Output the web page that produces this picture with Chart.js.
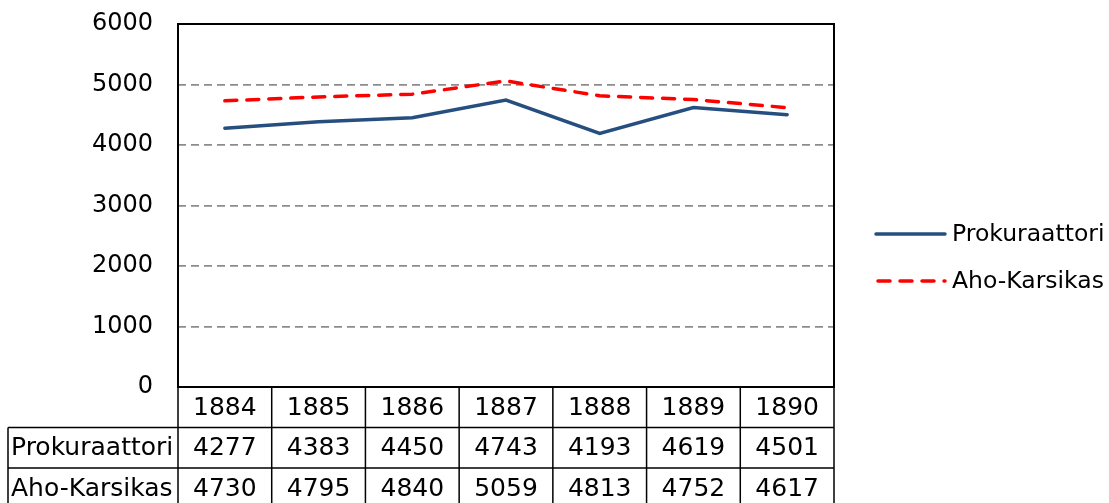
<!DOCTYPE html>
<html>
<head>
<meta charset="utf-8">
<script src="https://cdn.jsdelivr.net/npm/chart.js@4/dist/chart.umd.min.js"></script>
<style>
  html, body { margin: 0; padding: 0; background: #fff; }
  canvas { display: block; }
</style>
</head>
<body>
<canvas id="chart" width="1109" height="503"></canvas>
<script>
// ====== DATA ======
const years = ["1884", "1885", "1886", "1887", "1888", "1889", "1890"];
const prokuraattori = [4277, 4383, 4450, 4743, 4193, 4619, 4501];
const ahoKarsikas = [4730, 4795, 4840, 5059, 4813, 4752, 4617];
const seriesNames = ["Prokuraattori", "Aho-Karsikas"];

const FONT = "DejaVu Sans";
const BLUE = "#264F80";
const RED = "#FF0000";

// ====== TABLE + FRAME + LEGEND ======
const excelFrame = {
  id: "excelFrame",
  afterDraw(chart) {
    const ctx = chart.ctx;
    const a = chart.chartArea;
    const x = chart.scales.x;
    const n = years.length;
    const colW = (a.right - a.left) / n;
    const rowH = 40.5;
    const labelLeft = 8;

    ctx.save();
    // plot border
    ctx.strokeStyle = "#000";
    ctx.lineWidth = 2;
    ctx.strokeRect(a.left, a.top, a.right - a.left, a.bottom - a.top);

    // table lines
    ctx.lineWidth = 1.5;
    ctx.beginPath();
    for (let r = 1; r <= 3; r++) {
      const y = a.bottom + r * rowH;
      ctx.moveTo(labelLeft, y);
      ctx.lineTo(a.right, y);
    }
    for (let i = 0; i <= n; i++) {
      const xx = a.left + i * colW;
      ctx.moveTo(xx, a.bottom);
      ctx.lineTo(xx, a.bottom + 3 * rowH);
    }
    ctx.moveTo(labelLeft, a.bottom + rowH);
    ctx.lineTo(labelLeft, a.bottom + 3 * rowH);
    ctx.stroke();

    // table texts
    ctx.fillStyle = "#000";
    ctx.font = "25px '" + FONT + "'";
    ctx.textBaseline = "middle";
    ctx.textAlign = "center";
    const rows = [years, prokuraattori, ahoKarsikas];
    rows.forEach((row, r) => {
      const cy = a.bottom + r * rowH + rowH / 2 + 1;
      row.forEach((v, i) => {
        ctx.fillText(String(v), x.getPixelForValue(i), cy);
      });
    });
    ctx.textAlign = "left";
    seriesNames.forEach((name, r) => {
      ctx.fillText(name, labelLeft + 3, a.bottom + (r + 1) * rowH + rowH / 2 + 1);
    });

    // legend
    const legX1 = 876, legX2 = 945;
    const legY = [234, 281];
    ctx.lineCap = "round";
    ctx.lineWidth = 3.5;
    ctx.strokeStyle = BLUE;
    ctx.setLineDash([]);
    ctx.beginPath();
    ctx.moveTo(legX1, legY[0]);
    ctx.lineTo(legX2, legY[0]);
    ctx.stroke();
    ctx.strokeStyle = RED;
    ctx.lineWidth = 3.5;
    ctx.setLineDash([12, 10]);
    ctx.beginPath();
    ctx.moveTo(legX1 + 2, legY[1]);
    ctx.lineTo(legX2, legY[1]);
    ctx.stroke();
    ctx.setLineDash([]);
    ctx.font = "23.5px '" + FONT + "'";
    seriesNames.forEach((name, r) => {
      ctx.fillText(name, 952, legY[r] + 1);
    });
    ctx.restore();
  },
};

new Chart(document.getElementById("chart"), {
  type: "line",
  data: {
    labels: years,
    datasets: [
      {
        label: seriesNames[0],
        data: prokuraattori,
        borderColor: BLUE,
        borderWidth: 3.5,
        pointRadius: 0,
        tension: 0,
        borderCapStyle: "round",
      },
      {
        label: seriesNames[1],
        data: ahoKarsikas,
        borderColor: RED,
        borderWidth: 3.5,
        borderDash: [12, 10],
        borderCapStyle: "round",
        pointRadius: 0,
        tension: 0,
      },
    ],
  },
  options: {
    responsive: false,
    animation: false,
    devicePixelRatio: 1,
    layout: { padding: { left: 0, top: 24, right: 275, bottom: 116 } },
    plugins: {
      legend: { display: false },
      tooltip: { enabled: false },
    },
    scales: {
      x: { type: "category", offset: true, display: false },
      y: {
        min: 0,
        max: 6000,
        ticks: {
          stepSize: 1000,
          padding: 25,
          color: "#000",
          font: { family: FONT, size: 24 },
          callback: (v) => String(v),
        },
        grid: { color: "#8c8c8c", lineWidth: 1.8, drawTicks: false },
        border: { display: false, dash: [8, 5] },
        afterFit: (s) => {
          s.width = 178;
          s.paddingTop = 0;
          s.paddingBottom = 0;
        },
      },
    },
  },
  plugins: [excelFrame],
});
</script>
</body>
</html>
